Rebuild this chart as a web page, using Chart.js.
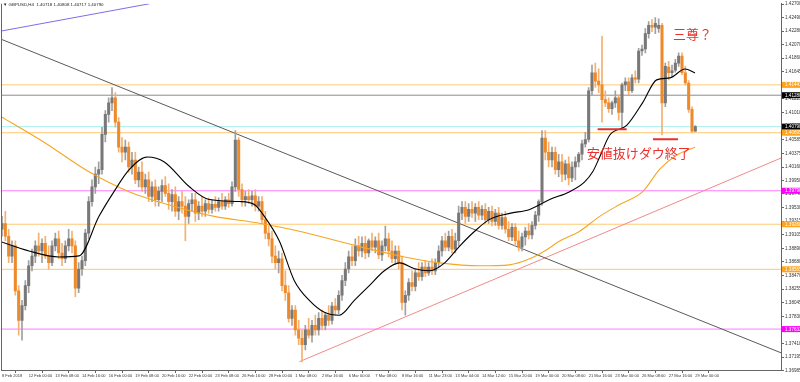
<!DOCTYPE html>
<html><head><meta charset="utf-8">
<script src="https://cdn.jsdelivr.net/npm/chart.js@4"></script>
<style>html,body{margin:0;padding:0;background:#fff;overflow:hidden}canvas{display:block}</style>
</head><body>
<canvas id="c" width="800" height="382"></canvas>
<script>
const headerText = "GBPUSD,H4  1.40718 1.40808 1.40717 1.40790";
const timeLabels = ["8 Feb 2018","12 Feb 00:00","13 Feb 08:00","14 Feb 16:00","16 Feb 00:00","19 Feb 08:00","20 Feb 16:00","22 Feb 00:00","23 Feb 08:00","26 Feb 16:00","28 Feb 00:00","1 Mar 08:00","2 Mar 16:00","6 Mar 00:00","7 Mar 08:00","8 Mar 16:00","11 Mar 23:00","13 Mar 04:00","14 Mar 12:00","15 Mar 20:00","19 Mar 00:00","20 Mar 08:00","21 Mar 16:00","23 Mar 00:00","26 Mar 08:00","27 Mar 16:00","29 Mar 00:00"];
const timeLabelBars = [0,8,16,24,32,40,48,56,64,72,80,88,96,104,112,120,128,136,144,152,160,168,176,184,192,200,208];
const priceTicks = [1.42700,1.42490,1.42280,1.42070,1.41860,1.41645,1.41435,1.41225,1.41010,1.40800,1.40585,1.40375,1.40160,1.39950,1.39740,1.39530,1.39315,1.39105,1.38890,1.38680,1.38470,1.38255,1.38045,1.37830,1.37620,1.37410,1.37195,1.36985];

const open = [1.3919,1.3928,1.3908,1.3877,1.3893,1.3823,1.3777,1.3800,1.3831,1.3862,
1.3877,1.3893,1.3885,1.3897,1.3877,1.3867,1.3893,1.3904,1.3882,1.3873,
1.3893,1.3904,1.3893,1.3827,1.3857,1.3870,1.3913,1.3962,1.3985,1.4005,
1.4012,1.4067,1.4098,1.4116,1.4124,1.4086,1.4047,1.4039,1.4047,1.4016,
1.4027,1.3996,1.4008,1.3985,1.3996,1.3970,1.3985,1.3965,1.3978,1.3987,
1.3975,1.3962,1.3973,1.3947,1.3962,1.3955,1.3939,1.3959,1.3965,1.3944,
1.3955,1.3947,1.3959,1.3950,1.3958,1.3953,1.3962,1.3955,1.3965,1.3959,
1.3985,1.4058,1.3981,1.3965,1.3970,1.3965,1.3971,1.3955,1.3962,1.3934,
1.3913,1.3904,1.3877,1.3867,1.3873,1.3831,1.3820,1.3780,1.3793,1.3762,
1.3749,1.3739,1.3762,1.3754,1.3769,1.3762,1.3780,1.3769,1.3785,1.3777,
1.3799,1.3793,1.3816,1.3839,1.3857,1.3876,1.3870,1.3893,1.3885,1.3897,
1.3882,1.3901,1.3891,1.3901,1.3879,1.3893,1.3904,1.3885,1.3873,1.3885,
1.3867,1.3805,1.3816,1.3836,1.3830,1.3851,1.3845,1.3860,1.3851,1.3860,
1.3854,1.3867,1.3885,1.3901,1.3891,1.3908,1.3888,1.3901,1.3944,1.3953,
1.3939,1.3950,1.3944,1.3953,1.3941,1.3950,1.3934,1.3947,1.3931,1.3944,
1.3925,1.3937,1.3919,1.3907,1.3922,1.3901,1.3891,1.3907,1.3916,1.3910,
1.3925,1.3941,1.3962,1.4061,1.4039,1.4027,1.4039,1.4012,1.4024,1.4005,
1.4021,1.3999,1.4016,1.4024,1.4036,1.4052,1.4059,1.4135,1.4163,1.4150,
1.4144,1.4121,1.4116,1.4107,1.4116,1.4124,1.4101,1.4144,1.4149,1.4135,
1.4155,1.4153,1.4197,1.4200,1.4224,1.4237,1.4234,1.4232,1.4237,1.4116,
1.4172,1.4163,1.4167,1.4178,1.4189,1.4163,1.4147,1.4106,1.40718];
const high = [1.3939,1.3947,1.3919,1.3901,1.3901,1.3831,1.3808,1.3839,1.3870,1.3888,
1.3901,1.3913,1.3904,1.3908,1.3893,1.3901,1.3913,1.3916,1.3897,1.3901,
1.3919,1.3916,1.3901,1.3867,1.3877,1.3919,1.3970,1.3996,1.4016,1.4024,
1.4078,1.4104,1.4124,1.4140,1.4132,1.4093,1.4062,1.4058,1.4055,1.4039,
1.4039,1.4016,1.4024,1.4005,1.4008,1.3993,1.3996,1.3985,1.3996,1.4001,
1.3990,1.3981,1.3985,1.3970,1.3978,1.3970,1.3965,1.3975,1.3975,1.3962,
1.3970,1.3965,1.3968,1.3965,1.3970,1.3968,1.3975,1.3970,1.3975,1.3993,
1.4073,1.4062,1.3990,1.3978,1.3981,1.3978,1.3981,1.3970,1.3970,1.3947,
1.3924,1.3916,1.3893,1.3885,1.3882,1.3854,1.3831,1.3800,1.3800,1.3777,
1.3762,1.3769,1.3780,1.3777,1.3785,1.3789,1.3793,1.3789,1.3800,1.3805,
1.3811,1.3823,1.3847,1.3867,1.3885,1.3893,1.3904,1.3908,1.3907,1.3908,
1.3904,1.3913,1.3907,1.3913,1.3901,1.3924,1.3913,1.3901,1.3893,1.3893,
1.3877,1.3823,1.3842,1.3854,1.3857,1.3867,1.3867,1.3870,1.3867,1.3873,
1.3873,1.3893,1.3908,1.3913,1.3916,1.3919,1.3913,1.3955,1.3962,1.3962,
1.3959,1.3962,1.3959,1.3962,1.3956,1.3959,1.3953,1.3955,1.3950,1.3953,
1.3944,1.3947,1.3931,1.3928,1.3928,1.3916,1.3913,1.3922,1.3928,1.3931,
1.3947,1.3965,1.4073,1.4073,1.4055,1.4047,1.4047,1.4036,1.4036,1.4027,
1.4032,1.4024,1.4032,1.4039,1.4058,1.4070,1.4140,1.4175,1.4178,1.4169,
1.4220,1.4135,1.4124,1.4119,1.4135,1.4129,1.4147,1.4155,1.4155,1.4160,
1.4166,1.4201,1.4206,1.4232,1.4243,1.4246,1.4249,1.4247,1.4240,1.4178,
1.4181,1.4175,1.4184,1.4194,1.4194,1.4173,1.4151,1.4110,1.40808];
const low = [1.3908,1.3901,1.3867,1.3867,1.3816,1.3754,1.3746,1.3793,1.3820,1.3854,
1.3867,1.3877,1.3867,1.3873,1.3857,1.3862,1.3885,1.3873,1.3862,1.3867,
1.3885,1.3882,1.3814,1.3820,1.3847,1.3862,1.3904,1.3955,1.3975,1.3990,
1.4005,1.4055,1.4086,1.4104,1.4078,1.4039,1.4024,1.4027,1.4008,1.4005,
1.3990,1.3985,1.3978,1.3975,1.3962,1.3962,1.3955,1.3955,1.3962,1.3970,
1.3950,1.3947,1.3939,1.3934,1.3944,1.3901,1.3928,1.3947,1.3931,1.3934,
1.3939,1.3939,1.3944,1.3944,1.3947,1.3947,1.3950,1.3950,1.3953,1.3955,
1.3978,1.3970,1.3955,1.3955,1.3959,1.3955,1.3947,1.3947,1.3928,1.3904,
1.3893,1.3867,1.3857,1.3851,1.3823,1.3808,1.3774,1.3769,1.3754,1.3739,
1.3712,1.3731,1.3749,1.3743,1.3754,1.3754,1.3762,1.3762,1.3769,1.3771,
1.3785,1.3787,1.3808,1.3831,1.3851,1.3862,1.3862,1.3877,1.3876,1.3873,
1.3876,1.3885,1.3882,1.3873,1.3870,1.3885,1.3876,1.3867,1.3864,1.3857,
1.3793,1.3785,1.3808,1.3823,1.3823,1.3839,1.3839,1.3845,1.3847,1.3848,
1.3848,1.3860,1.3877,1.3885,1.3885,1.3882,1.3882,1.3893,1.3934,1.3928,
1.3931,1.3937,1.3931,1.3934,1.3934,1.3928,1.3928,1.3924,1.3925,1.3919,
1.3919,1.3913,1.3901,1.3901,1.3893,1.3885,1.3885,1.3894,1.3904,1.3904,
1.3919,1.3931,1.3956,1.4027,1.4016,1.4016,1.4005,1.4001,1.3993,1.3996,
1.3988,1.3993,1.3996,1.4016,1.4027,1.4047,1.4055,1.4129,1.4140,1.4132,
1.4086,1.4110,1.4101,1.4098,1.4109,1.4089,1.4075,1.4135,1.4129,1.4132,
1.4147,1.4147,1.4190,1.4194,1.4217,1.4227,1.4224,1.4226,1.4066,1.4110,
1.4152,1.4157,1.4164,1.4173,1.4160,1.4144,1.4101,1.4070,1.40717];
const close = [1.3928,1.3908,1.3877,1.3893,1.3823,1.3777,1.3800,1.3831,1.3862,1.3877,
1.3893,1.3885,1.3897,1.3877,1.3867,1.3893,1.3904,1.3882,1.3873,1.3893,
1.3904,1.3893,1.3827,1.3857,1.3870,1.3913,1.3962,1.3985,1.4005,1.4012,
1.4067,1.4098,1.4116,1.4124,1.4086,1.4047,1.4039,1.4047,1.4016,1.4027,
1.3996,1.4008,1.3985,1.3996,1.3970,1.3985,1.3965,1.3978,1.3987,1.3975,
1.3962,1.3973,1.3947,1.3962,1.3955,1.3939,1.3959,1.3965,1.3944,1.3955,
1.3947,1.3959,1.3950,1.3958,1.3953,1.3962,1.3955,1.3965,1.3959,1.3985,
1.4058,1.3981,1.3965,1.3970,1.3965,1.3971,1.3955,1.3962,1.3934,1.3913,
1.3904,1.3877,1.3867,1.3873,1.3831,1.3820,1.3780,1.3793,1.3762,1.3749,
1.3739,1.3762,1.3754,1.3769,1.3762,1.3780,1.3769,1.3785,1.3777,1.3799,
1.3793,1.3816,1.3839,1.3857,1.3876,1.3870,1.3893,1.3885,1.3897,1.3882,
1.3901,1.3891,1.3901,1.3879,1.3893,1.3904,1.3885,1.3873,1.3885,1.3867,
1.3805,1.3816,1.3836,1.3830,1.3851,1.3845,1.3860,1.3851,1.3860,1.3854,
1.3867,1.3885,1.3901,1.3891,1.3908,1.3888,1.3901,1.3944,1.3953,1.3939,
1.3950,1.3944,1.3953,1.3941,1.3950,1.3934,1.3947,1.3931,1.3944,1.3925,
1.3937,1.3919,1.3907,1.3922,1.3901,1.3891,1.3907,1.3916,1.3910,1.3925,
1.3941,1.3962,1.4061,1.4039,1.4027,1.4039,1.4012,1.4024,1.4005,1.4021,
1.3999,1.4016,1.4024,1.4036,1.4052,1.4059,1.4135,1.4163,1.4150,1.4144,
1.4121,1.4116,1.4107,1.4116,1.4124,1.4101,1.4144,1.4149,1.4135,1.4155,
1.4153,1.4197,1.4200,1.4224,1.4237,1.4234,1.4240,1.4237,1.4116,1.4173,
1.4163,1.4166,1.4178,1.4189,1.4163,1.4147,1.4106,1.4072,1.40790];

const fastMaBars = [-0.9,8.1,17.1,23.1,29.1,33.6,38.1,43.6,48.7,56.2,62.2,71.2,75.7,78.7,83.2,87.7,92.2,96.7,101.2,105.7,110.2,114.7,119.3,123.8,128.3,132.8,137.3,141.8,146.3,152.3,158.3,164.3,170.3,174.8,177.2,179.3,182.3,187.4,192.2,196.4,200.4,204.9,207.9];
const fastMaValues = [1.39005,1.38851,1.38758,1.38774,1.39391,1.39776,1.40115,1.40316,1.40239,1.39853,1.39653,1.39622,1.39576,1.39391,1.39005,1.38388,1.38080,1.37895,1.37849,1.38080,1.38311,1.38543,1.38666,1.38573,1.38543,1.38666,1.38928,1.39159,1.39344,1.39437,1.39499,1.39653,1.39776,1.39930,1.40085,1.40316,1.40655,1.40809,1.41164,1.41519,1.41550,1.41688,1.41627];
const slowMaBars = [-0.9,12.6,26.1,38.1,51.7,63.7,77.2,89.2,104.2,119.3,131.3,143.3,152.3,158.3,162.8,167.3,173.3,179.3,185.3,192.2,197.4,202.5,207.9];
const slowMaValues = [1.40964,1.40547,1.40085,1.39776,1.39545,1.39391,1.39283,1.39159,1.38959,1.38774,1.38666,1.38620,1.38635,1.38728,1.38851,1.39005,1.39159,1.39391,1.39576,1.39776,1.40131,1.40347,1.40470];

const levelValues = [1.41441,1.41280,1.40790,1.40695,1.39790,1.39268,1.38565,1.37633];
const levelKinds = ["orange","gray","bid","orange","magenta","orange","orange","magenta"];

const purpleLine = [[-0.9,1.42274],[44.2,1.42706]];
const grayLine = [[-0.9,1.42166],[233.7,1.37263]];
const redLine = [[89.2,1.37124],[233.7,1.40300]];
const underline1 = [[178.7,1.40748],[187.4,1.40748]];
const underline2 = [[195.3,1.40593],[202.8,1.40593]];
const noteTexts = ["三尊？","安値抜けダウ終了"];
const noteAnchors = [[201.3,1.42228],[175.4,1.40378]];

const STYLE = {
  orange:{line:'#ffc870', box:'#ffa31a', text:'#ffffff'},
  gray:{line:'#8c8c8c', box:'#000000', text:'#ffffff'},
  bid:{line:'#a8eef0', box:'#000000', text:'#ffffff'},
  magenta:{line:'#ff7cff', box:'#ff00ff', text:'#ffffff'}
};
const UP_BODY='#787878', UP_WICK='#a0a0a0', DN_BODY='#ee8a2a', DN_WICK='#f3b070';
const isUp = i => close[i] >= open[i];

const XMIN=-0.3, XMAX=233.7;
const seg = (pts)=>pts.map(p=>({x:p[0],y:p[1]}));
const datasets = [];
levelValues.forEach((v,k)=>{
  datasets.push({type:'line', order:60, data:[{x:XMIN-2,y:v},{x:XMAX+2,y:v}], borderColor:STYLE[levelKinds[k]].line, borderWidth:1, pointRadius:0});
});
datasets.push({type:'line', order:55, data:seg(purpleLine), borderColor:'#7b6ee6', borderWidth:1, pointRadius:0});
datasets.push({type:'line', order:55, data:seg(grayLine), borderColor:'#5a5a5a', borderWidth:1, pointRadius:0});
datasets.push({type:'line', order:55, data:seg(redLine), borderColor:'#f08a8a', borderWidth:1, pointRadius:0});
datasets.push({type:'line', order:15, data:fastMaBars.map((b,k)=>({x:b,y:fastMaValues[k]})), borderColor:'#000000', borderWidth:1.1, pointRadius:0, cubicInterpolationMode:'monotone'});
datasets.push({type:'line', order:16, data:slowMaBars.map((b,k)=>({x:b,y:slowMaValues[k]})), borderColor:'#f5a623', borderWidth:1.1, pointRadius:0, cubicInterpolationMode:'monotone'});
datasets.push({type:'bar', order:30, grouped:false, barThickness:1, data:close.map((c,i)=>({x:i,y:[low[i],high[i]]})), backgroundColor:close.map((c,i)=>isUp(i)?UP_WICK:DN_WICK), borderWidth:0});
datasets.push({type:'bar', order:25, grouped:false, barThickness:2.4, minBarLength:1, data:close.map((c,i)=>({x:i,y:[open[i],c]})), backgroundColor:close.map((c,i)=>isUp(i)?UP_BODY:DN_BODY), borderWidth:0});
datasets.push({type:'line', order:5, data:seg(underline1), borderColor:'#e8302c', borderWidth:2, pointRadius:0});
datasets.push({type:'line', order:5, data:seg(underline2), borderColor:'#e8302c', borderWidth:2, pointRadius:0});

const overlay = {
  id:'overlay',
  afterDatasetsDraw(chart){
    const {ctx, scales:{x,y}} = chart;
    ctx.save();
    ctx.fillStyle='#e8302c';
    ctx.font='13px "Noto Sans CJK JP"';
    ctx.textBaseline='middle'; ctx.textAlign='left';
    noteTexts.forEach((t,k)=>ctx.fillText(t, x.getPixelForValue(noteAnchors[k][0]), y.getPixelForValue(noteAnchors[k][1])));
    ctx.restore();
  },
  afterDraw(chart){
    const {ctx, scales:{x,y}, chartArea:a} = chart;
    ctx.save();
    ctx.strokeStyle='#666'; ctx.lineWidth=1;
    ctx.beginPath(); ctx.moveTo(a.left+0.5,a.top); ctx.lineTo(a.left+0.5,a.bottom); ctx.stroke();
    ctx.font='4.6px "Liberation Sans"'; ctx.textBaseline='middle'; ctx.textAlign='left';
    levelValues.forEach((v,k)=>{
      const py=y.getPixelForValue(v), st=STYLE[levelKinds[k]];
      ctx.fillStyle=st.box; ctx.fillRect(a.right+1, py-3, 19, 6);
      ctx.fillStyle=st.text; ctx.fillText(v.toFixed(5), a.right+4, py+0.3);
    });
    ctx.fillStyle='#222'; ctx.font='4.4px "Liberation Sans"';
    ctx.fillText('\u25BC '+headerText, a.left+2, 5);
    ctx.restore();
  }
};

new Chart(document.getElementById('c'), {
  type:'bar',
  data:{datasets},
  options:{
    responsive:false, animation:false, devicePixelRatio:1,
    layout:{padding:{left:1,top:0,right:0,bottom:0}},
    plugins:{legend:{display:false}, tooltip:{enabled:false}, title:{display:false}},
    scales:{
      x:{type:'linear', min:XMIN, max:XMAX, offset:false,
        grid:{display:true, drawOnChartArea:false, drawTicks:true, tickLength:3, color:'#666'},
        border:{display:true, color:'#666'},
        ticks:{autoSkip:false, maxRotation:0, minRotation:0, align:'start', padding:0, color:'#333', font:{size:4, family:'Liberation Sans'}, callback:(v,i)=>timeLabels[i]},
        afterBuildTicks:s=>{s.ticks=timeLabelBars.map(v=>({value:v}));},
        afterFit:s=>{s.height=12;}
      },
      y:{type:'linear', position:'right', min:1.36995, max:1.42706,
        grid:{display:true, drawOnChartArea:false, drawTicks:true, tickLength:3, color:'#666'},
        border:{display:true, color:'#666'},
        ticks:{padding:1, color:'#333', font:{size:4.6, family:'Liberation Sans'}, callback:v=>Number(v).toFixed(5)},
        afterBuildTicks:s=>{s.ticks=priceTicks.map(v=>({value:v}));},
        afterFit:s=>{s.width=19;}
      }
    }
  },
  plugins:[overlay]
});
</script>
</body></html>
